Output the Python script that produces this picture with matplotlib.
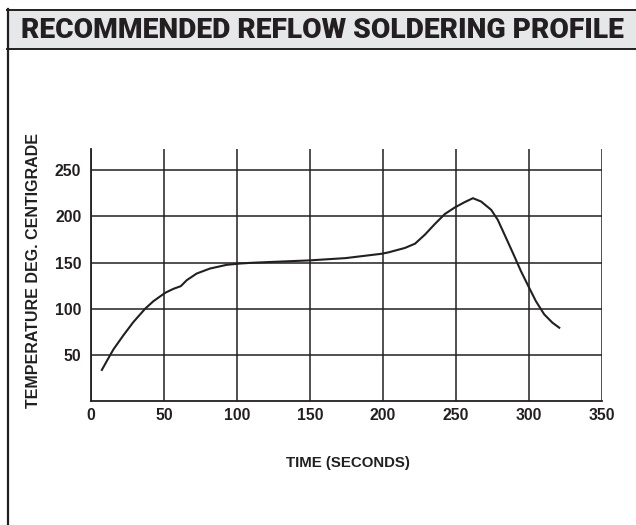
import os
import matplotlib
matplotlib.use("Agg")
import matplotlib.pyplot as plt
from matplotlib.patches import Rectangle
from matplotlib.lines import Line2D
from matplotlib import font_manager as fm

# Data
time_s = [7.1, 10.9, 15.4, 22.2, 29, 37.1, 42.8, 50.9, 56.6, 61.5, 65.6, 72.4, 81.5, 92.9,
          101.9, 108.7, 119.8, 149.4, 174.4, 199, 203.7, 215, 221.9, 228.7, 235.5, 242.3,
          249.1, 255.9, 261.6, 267.2, 274.1, 278.6, 284.3, 290, 294.5, 299, 304.7, 310.4,
          316, 321.3]
temp_c = [32.7, 43.5, 56, 71.2, 85.5, 100, 108.2, 117.3, 121.6, 124.4, 130.9, 138.1, 143.5,
          147.5, 148.9, 149.6, 150.4, 152.3, 154.8, 159.5, 161, 165.8, 170.4, 180.2, 191.7,
          202.5, 209.6, 215.4, 219.7, 216.1, 207.1, 196.3, 176.6, 156.7, 140.6, 126.2, 108.2,
          93.9, 84.9, 78.7]
x_ticks = [0, 50, 100, 150, 200, 250, 300, 350]
y_ticks = [50, 100, 150, 200, 250]
title = "RECOMMENDED REFLOW SOLDERING PROFILE"
x_label = "TIME (SECONDS)"
y_label = "TEMPERATURE DEG. CENTIGRADE"

W, H = 636, 525
DARK = "#231f20"


def pick_heavy_font():
    prefs = ["roboto-black", "inter", "lato-black", "notosans-black", "opensans-extrabold"]
    files = [f.fname for f in fm.fontManager.ttflist]
    for p in prefs:
        for fn in files:
            b = os.path.basename(fn).lower()
            if b.startswith(p) and "italic" not in b and "condensed" not in b:
                if p == "inter" and "black" not in b:
                    continue
                return fm.FontProperties(fname=fn)
    return fm.FontProperties(family=["Liberation Sans", "DejaVu Sans"], weight="bold")


fig = plt.figure(figsize=(W / 100, H / 100), dpi=100)


def fx(px):
    return px / W


def fy(py):
    return 1 - py / H


# Header band and frame
fig.patches.append(Rectangle((fx(7), fy(49)), 1 - fx(7) + 0.01, fy(9) - fy(49),
                             transform=fig.transFigure, facecolor="#e6e7e8",
                             edgecolor="none", zorder=0))
fig.lines.append(Line2D([fx(7.5), fx(7.5)], [fy(9), 0], transform=fig.transFigure,
                        color=DARK, lw=1.6))
fig.lines.append(Line2D([fx(7), 1], [fy(9.5), fy(9.5)], transform=fig.transFigure,
                        color=DARK, lw=1.4))
fig.lines.append(Line2D([fx(7), 1], [fy(48.5), fy(48.5)], transform=fig.transFigure,
                        color=DARK, lw=1.4))
hfont = pick_heavy_font()
hfont.set_size(17.5)
htxt = fig.text(fx(21), fy(38), title, ha="left", va="baseline",
                fontproperties=hfont, color=DARK)
# fit header text width to the band (about 607 px)
fig.canvas.draw()
bb = htxt.get_window_extent()
size = 17.5 * 607.0 / bb.width
hfont.set_size(min(max(size, 12), 22))
htxt.set_fontproperties(hfont)

ax = fig.add_axes([fx(91), fy(401), fx(602) - fx(91), fy(149) - fy(401)])
ax.plot(time_s, temp_c, color=DARK, lw=1.5, solid_capstyle="butt", solid_joinstyle="round")
ax.set_xlim(0, 350)
ax.set_ylim(0, 273)
ax.set_xticks(x_ticks)
ax.set_yticks(y_ticks)
ax.grid(True, color=DARK, lw=1.1)
ax.set_axisbelow(True)
for s in ["top", "right"]:
    ax.spines[s].set_visible(False)
for s in ["left", "bottom"]:
    ax.spines[s].set_color(DARK)
    ax.spines[s].set_linewidth(1.3)
ax.tick_params(length=0, labelsize=11.3, colors=DARK)
ax.tick_params(axis="x", pad=5)
ax.tick_params(axis="y", pad=7)
for lab in ax.get_xticklabels() + ax.get_yticklabels():
    lab.set_fontweight("bold")
    lab.set_family("Liberation Sans")

fig.text(fx(348), fy(463), x_label, ha="center", va="center", fontsize=10.8,
         fontweight="bold", color=DARK, family="Liberation Sans")
fig.text(fx(34), fy(271), y_label, ha="center", va="center", rotation=90,
         fontsize=11.5, fontweight="bold", color=DARK, family="Liberation Sans")

fig.savefig("out.png", dpi=100, facecolor="white")
